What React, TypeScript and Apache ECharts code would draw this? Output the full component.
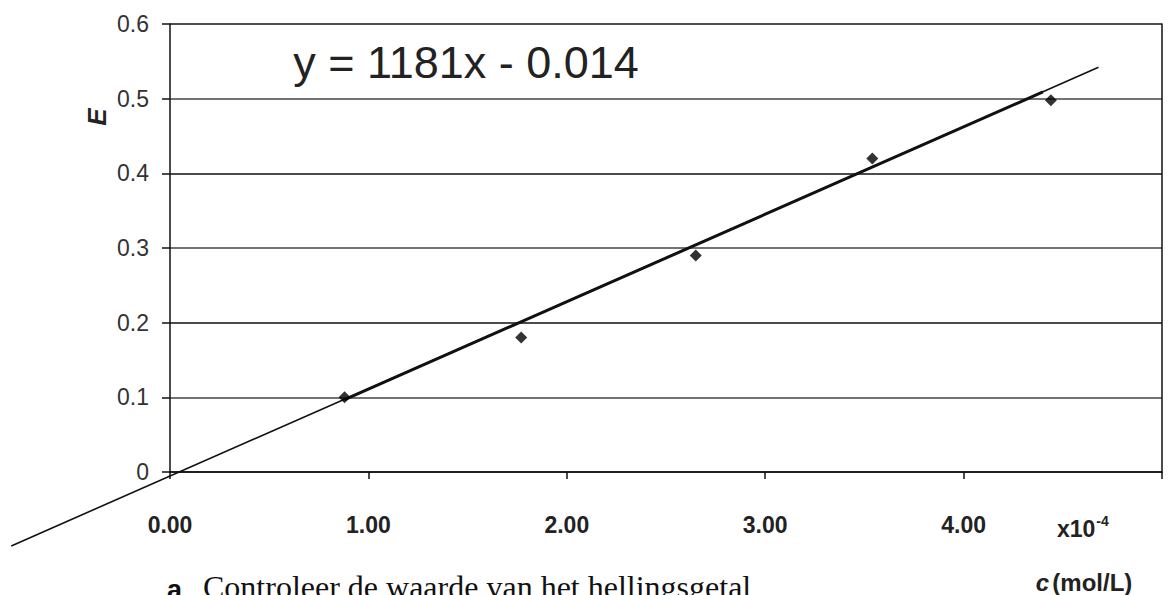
import React, { useEffect, useRef } from "react";
import * as echarts from "echarts";

// concentration (x 10^-4 mol/L) and extinction E
const concentrations = [0.88, 1.77, 2.65, 3.54, 4.44];
const extinctions = [0.1, 0.18, 0.29, 0.42, 0.498];
// trendline: [x1, y1, x2, y2] (full extent, and the heavier middle part)
const trendFull = [-0.8, -0.099, 4.68, 0.542];
const trendMid = [0.88, 0.097, 4.4, 0.509];
const xTicks = [0, 1, 2, 3, 4, 5];
const yTicks = [0, 0.1, 0.2, 0.3, 0.4, 0.5, 0.6];

export default function App() {
  const ref = useRef<HTMLDivElement>(null);
  useEffect(() => {
    if (!ref.current) return;
    const chart = echarts.init(ref.current, undefined, { renderer: "svg" });
    const sans = "Liberation Sans, Arial, sans-serif";
    const segment = (width: number) => (params: any, api: any) => {
      const p1 = api.coord([api.value(0), api.value(1)]);
      const p2 = api.coord([api.value(2), api.value(3)]);
      return {
        type: "line",
        shape: { x1: p1[0], y1: p1[1], x2: p2[0], y2: p2[1] },
        style: { stroke: "#111", lineWidth: width, fill: null },
      };
    };
    chart.setOption({
      animation: false,
      backgroundColor: "#ffffff",
      grid: { left: 170, right: 6, top: 24, bottom: 123, containLabel: false },
      xAxis: {
        type: "value",
        min: xTicks[0],
        max: xTicks[xTicks.length - 1],
        interval: 1,
        axisLine: { show: true, onZero: false, lineStyle: { color: "#111", width: 1.5 } },
        axisTick: { show: true, length: 7, lineStyle: { color: "#111", width: 1.5 } },
        axisLabel: {
          margin: 41,
          fontFamily: sans,
          fontSize: 23,
          fontWeight: "bold",
          color: "#222",
          formatter: (v: number) => (v === 5 ? "" : v.toFixed(2)),
        },
        splitLine: { show: false },
      },
      yAxis: [
        {
          type: "value",
          position: "left",
          min: yTicks[0],
          max: yTicks[yTicks.length - 1],
          interval: 0.1,
          axisLine: { show: true, lineStyle: { color: "#111", width: 1.5 } },
          axisTick: { show: true, length: 8, lineStyle: { color: "#111", width: 1.5 } },
          axisLabel: {
            margin: 21,
            fontFamily: sans,
            fontSize: 23,
            color: "#333",
            formatter: (v: number) => (v === 0 ? "0" : v.toFixed(1)),
          },
          splitLine: { show: true, lineStyle: { color: ["#111", "#444"], width: 1.7 } },
        },
        {
          type: "value",
          position: "right",
          min: yTicks[0],
          max: yTicks[yTicks.length - 1],
          interval: 0.1,
          axisLine: { show: true, lineStyle: { color: "#111", width: 1.5 } },
          axisTick: { show: false },
          axisLabel: { show: false },
          splitLine: { show: false },
        },
      ],
      series: [
        {
          type: "custom",
          renderItem: segment(1.6),
          data: [trendFull],
          encode: { x: [0, 2], y: [1, 3] },
          clip: false,
          z: 3,
        },
        {
          type: "custom",
          renderItem: segment(3),
          data: [trendMid],
          encode: { x: [0, 2], y: [1, 3] },
          clip: false,
          z: 3,
        },
        {
          type: "scatter",
          data: concentrations.map((c, i) => [c, extinctions[i]]),
          symbol: "diamond",
          symbolSize: 12,
          itemStyle: { color: "#000" },
          z: 4,
        },
      ],
      graphic: [
        {
          type: "text",
          x: 466,
          y: 62,
          style: {
            text: "y = 1181x - 0.014",
            font: `45px ${sans}`,
            fill: "#222",
            align: "center",
            verticalAlign: "middle",
          },
        },
        {
          type: "text",
          x: 97,
          y: 117,
          rotation: Math.PI / 2,
          style: {
            text: "E",
            font: `italic bold 26px ${sans}`,
            fill: "#222",
            align: "center",
            verticalAlign: "middle",
          },
        },
        {
          type: "text",
          x: 1057,
          y: 527,
          style: {
            text: "{b|x10}{s|-4}",
            align: "left",
            verticalAlign: "middle",
            rich: {
              b: { font: `bold 23px ${sans}`, fill: "#222", verticalAlign: "bottom", lineHeight: 26 },
              s: { font: `bold 14px ${sans}`, fill: "#222", verticalAlign: "top", lineHeight: 26, padding: [0, 0, 11, 1] },
            },
          },
        },
        {
          type: "text",
          x: 1084,
          y: 582,
          style: {
            text: "{i|c} {b|(mol/L)}",
            align: "center",
            verticalAlign: "middle",
            rich: {
              i: { font: `italic bold 24px ${sans}`, fill: "#222" },
              b: { font: `bold 24px ${sans}`, fill: "#222" },
            },
          },
        },
        {
          type: "text",
          x: 167,
          y: 576,
          style: {
            text: "a",
            font: `bold 27px ${sans}`,
            fill: "#111",
            align: "left",
            verticalAlign: "top",
          },
        },
        {
          type: "text",
          x: 203,
          y: 571,
          style: {
            text: "Controleer de waarde van het hellingsgetal",
            font: `32px "Liberation Serif", "Times New Roman", serif`,
            fill: "#111",
            align: "left",
            verticalAlign: "top",
          },
        },
      ],
    });
    return () => chart.dispose();
  }, []);
  return (
    <div
      ref={ref}
      style={{ position: "fixed", left: 0, top: 0, width: 1168, height: 595 }}
    />
  );
}
